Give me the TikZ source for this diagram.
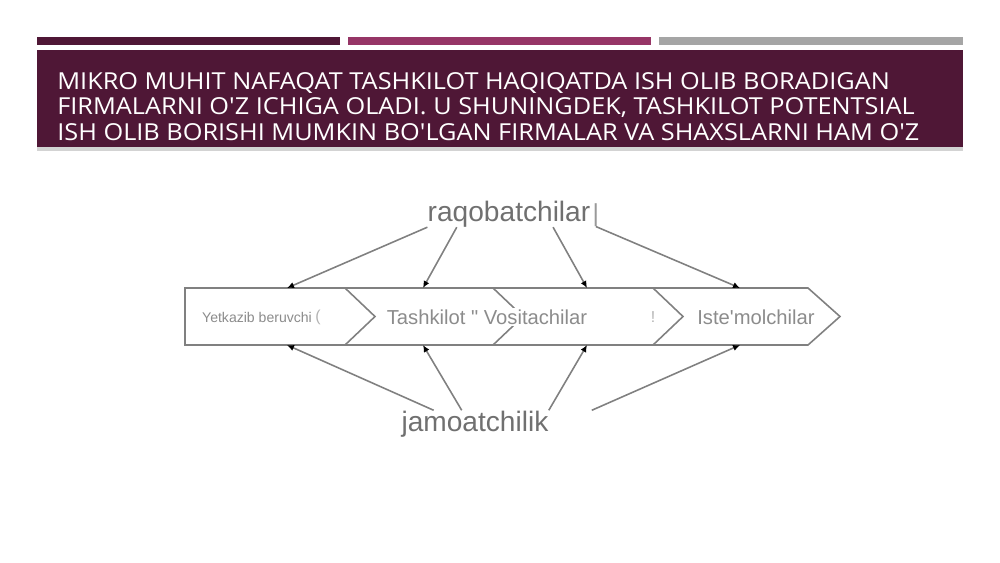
\documentclass[tikz,border=0pt]{standalone}
\usepackage{fontspec}
\newfontfamily\headfont{Open Sans}[Ligatures=TeXOff, FakeStretch=1.083]
\newfontfamily\diagfont{Liberation Sans}[Ligatures=TeXOff]
\usetikzlibrary{arrows.meta,positioning,shadows,calc}
\definecolor{plum}{HTML}{4F1736}
\definecolor{rose}{HTML}{963566}
\definecolor{ash}{HTML}{A5A5A5}
\definecolor{bandgray}{HTML}{808080}
\definecolor{seggray}{HTML}{8C8C8C}
\definecolor{actgray}{HTML}{707070}
\tikzset{%
   headline/.style={anchor=base west, inner sep=0pt, text=white, font=\headfont\fontsize{13.3}{14}\selectfont},
   band/.style={draw=bandgray, line width=0.9pt, line join=miter},
   feed/.style={draw=bandgray, line width=0.9pt, -{Latex[length=4pt,width=3.6pt,color=black]}},
   seg/.style={fill=white, inner sep=1pt, text=seggray, font=\diagfont\fontsize{11.5}{13}\selectfont},
   actor/.style={anchor=base, inner sep=0pt, text=actgray, font=\diagfont\fontsize{16}{18}\selectfont},
   caret/.style={inner sep=0pt, text=black!30, font=\diagfont\fontsize{9}{10}\selectfont},
}

\begin{document}
\begin{tikzpicture}[x=0.02cm, y=-0.02cm]
   \useasboundingbox (0,0) rectangle (1000,562);
   % header
   \fill[plum] (37,37) rectangle (340,45);
   \fill[rose] (348,37) rectangle (651,45);
   \fill[ash] (659,37) rectangle (963,45);
   \fill[plum, drop shadow={shadow xshift=0pt, shadow yshift=-2pt, opacity=.35}] (37,50) rectangle (963,147);
   \node[headline] (h1) at (57,89) {MIKRO MUHIT NAFAQAT TASHKILOT HAQIQATDA ISH OLIB BORADIGAN};
   \node[headline] (h2) at (57,114.5) {FIRMALARNI O'Z ICHIGA OLADI. U SHUNINGDEK, TASHKILOT POTENTSIAL};
   \node[headline] (h3) at (57,140) {ISH OLIB BORISHI MUMKIN BO'LGAN FIRMALAR VA SHAXSLARNI HAM O'Z};
   % chain
   \draw[band] (185,288) -- (808,288) -- (840,316.5) -- (808,345) -- (185,345) -- cycle;
   \foreach \x in {345,493,653}
      \draw[band] (\x,288) -- ++(30,28.5) -- (\x,345);
   \foreach \i/\x in {1/287,2/423,3/587,4/740} {
      \coordinate (t\i) at (\x,288);
      \coordinate (b\i) at (\x,345);
   }
   \node[seg, font=\diagfont\fontsize{8}{9}\selectfont] (yet) at (257,317) {Yetkazib beruvchi};
   \node[caret] (c1) at (318,317) {(};
   \node[seg] (tash) at (487,317) {Tashkilot " Vositachilar};
   \node[caret] (c2) at (653,317) {!};
   \node[seg] (iste) at (756,317) {Iste'molchilar};
   % surroundings
   \node[actor] (raq) at (509,221) {raqobatchilar};
   \node[caret, right=1pt of raq.base east, anchor=base west, text=black!40, font=\diagfont\fontsize{14}{16}\selectfont] (rq) {|};
   \node[actor] (jam) at (475,431) {jamoatchilik};
   \draw[feed] (raq.south west) -- (t1);
   \draw[feed] ($(raq.south west)!.18!(raq.south east)$) -- (t2);
   \draw[feed] ($(raq.south west)!.77!(raq.south east)$) -- (t3);
   \draw[feed] (rq.south) -- (t4);
   \draw[feed] ($(jam.north west)!.22!(jam.north east)$) -- (b1);
   \draw[feed] ($(jam.north west)!.41!(jam.north east)$) -- (b2);
   \draw[feed] (jam.north east) -- (b3);
   \draw[feed] ($(jam.north east)+(43,0)$) -- (b4);
\end{tikzpicture}
\end{document}
